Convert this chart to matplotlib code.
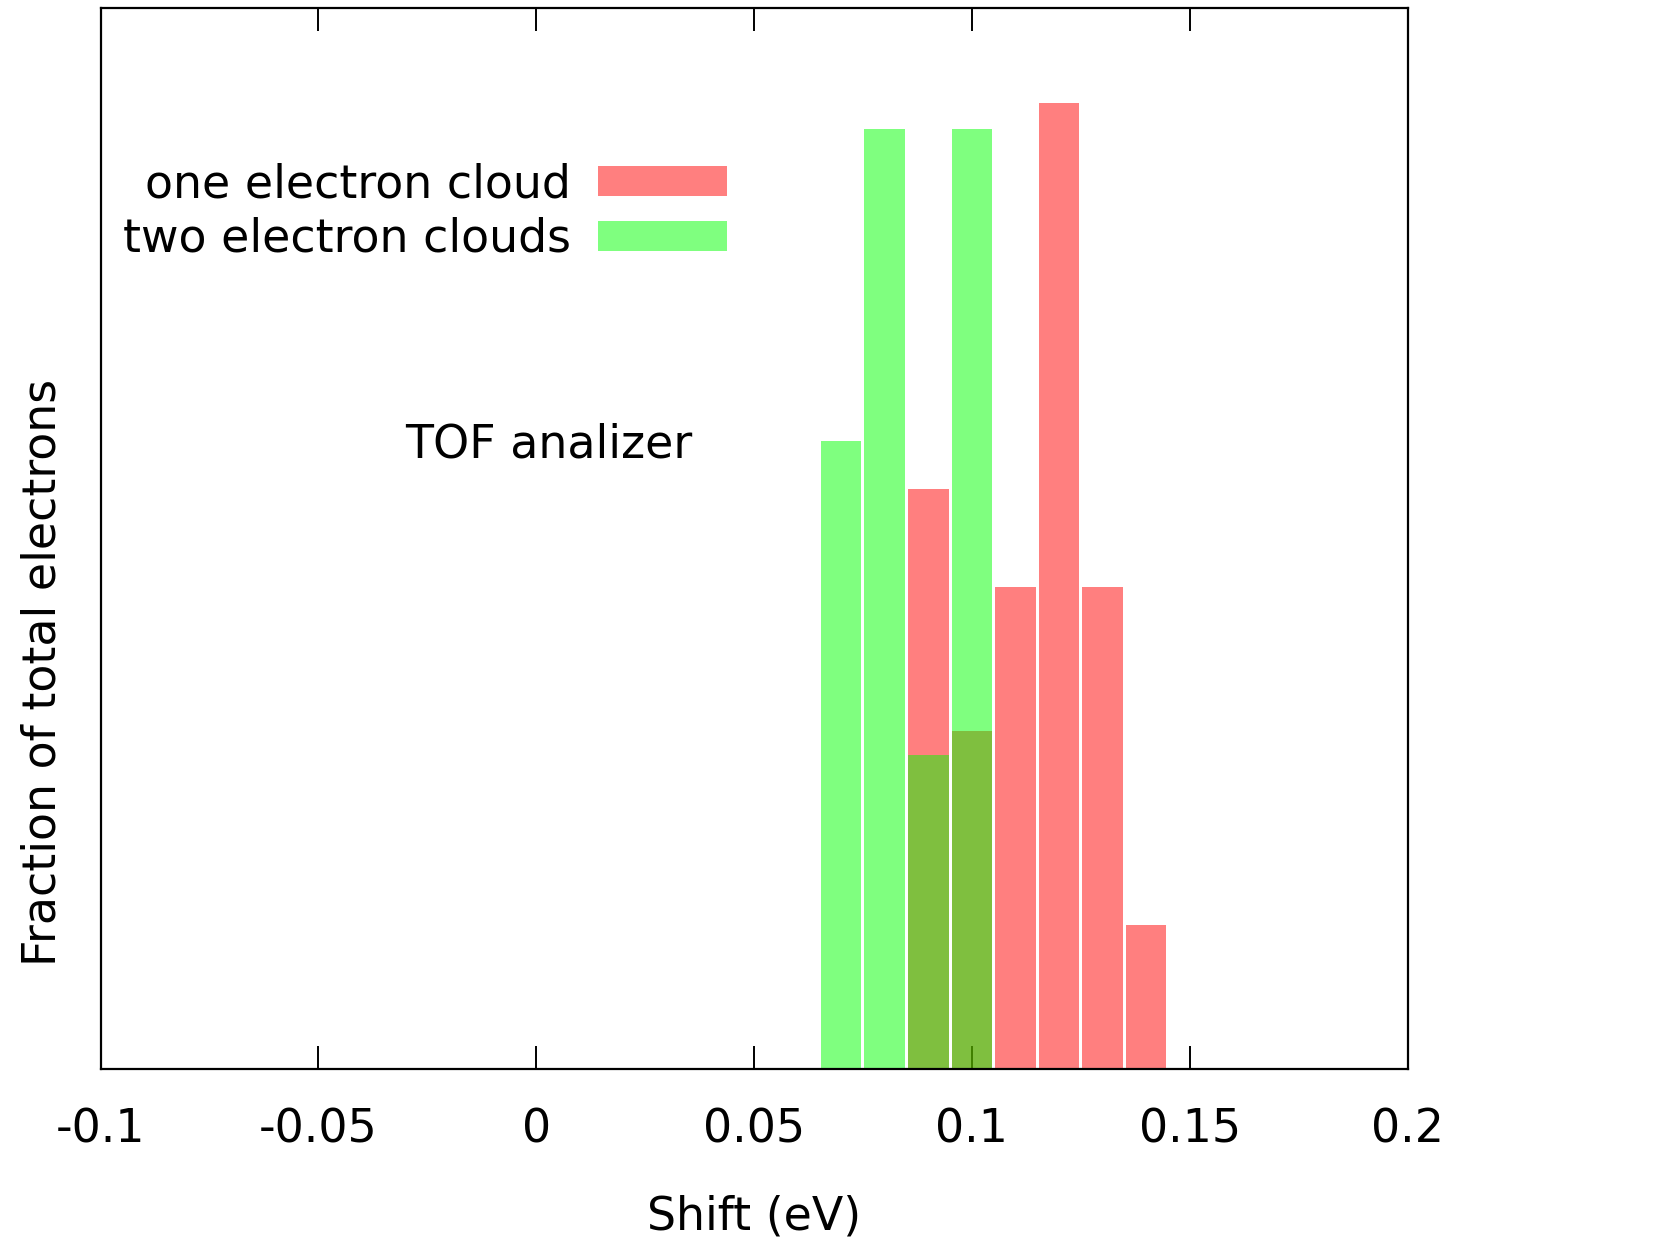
import matplotlib
matplotlib.use("Agg")
import matplotlib.pyplot as plt
from matplotlib.patches import Patch

# histogram bins (bin centres, eV) and fraction of electrons per bin
shift_one = [0.09, 0.10, 0.11, 0.12, 0.13, 0.14]
frac_one = [0.194, 0.113, 0.161, 0.323, 0.161, 0.048]
shift_two = [0.07, 0.08, 0.09, 0.10]
frac_two = [0.210, 0.314, 0.105, 0.314]
tick_pos = [-0.1, -0.05, 0, 0.05, 0.1, 0.15, 0.2]
tick_labels = ["-0.1", "-0.05", "0", "0.05", "0.1", "0.15", "0.2"]

plt.rcParams["font.family"] = ["DejaVu Sans"]
fs = 33

fig = plt.figure(figsize=(16.57, 12.40), dpi=100)
ax = fig.add_axes([100.5 / 1657, 171 / 1240, 1307 / 1657, 1060.7 / 1240])

red = (1, 0, 0, 0.5)
green = (0, 1, 0, 0.5)
ax.bar(shift_one, frac_one, width=0.0093, color=red, linewidth=0)
ax.bar(shift_two, frac_two, width=0.0093, color=green, linewidth=0)

ax.set_xlim(-0.1, 0.2)
ax.set_ylim(0, 0.3545)
ax.set_xticks(tick_pos)
ax.set_xticklabels(tick_labels)
ax.set_yticks([])
ax.tick_params(axis="x", direction="in", top=True, length=16.5, width=1.4,
               labelsize=fs, pad=28)
ax.set_axisbelow(True)
for sp in ax.spines.values():
    sp.set_linewidth(1.6)

ax.set_xlabel("Shift (eV)", fontsize=fs)
ax.xaxis.set_label_coords(0.5, -0.118)
ax.set_ylabel("Fraction of total electrons", fontsize=fs)
ax.yaxis.set_label_coords(-0.0264, 0.374)

ax.text(0.233, 0.588, "TOF analizer", transform=ax.transAxes, fontsize=fs,
        ha="left", va="center")

handles = [Patch(facecolor=red, linewidth=0), Patch(facecolor=green, linewidth=0)]
ax.legend(handles, ["one electron cloud", "two electron clouds"], loc="upper right",
          bbox_to_anchor=(0.479, 0.855), frameon=False, fontsize=fs,
          markerfirst=False, handlelength=2.8, handleheight=0.63,
          handletextpad=0.6, labelspacing=0.21, borderpad=0, borderaxespad=0)

fig.savefig("out.png", dpi=100)
